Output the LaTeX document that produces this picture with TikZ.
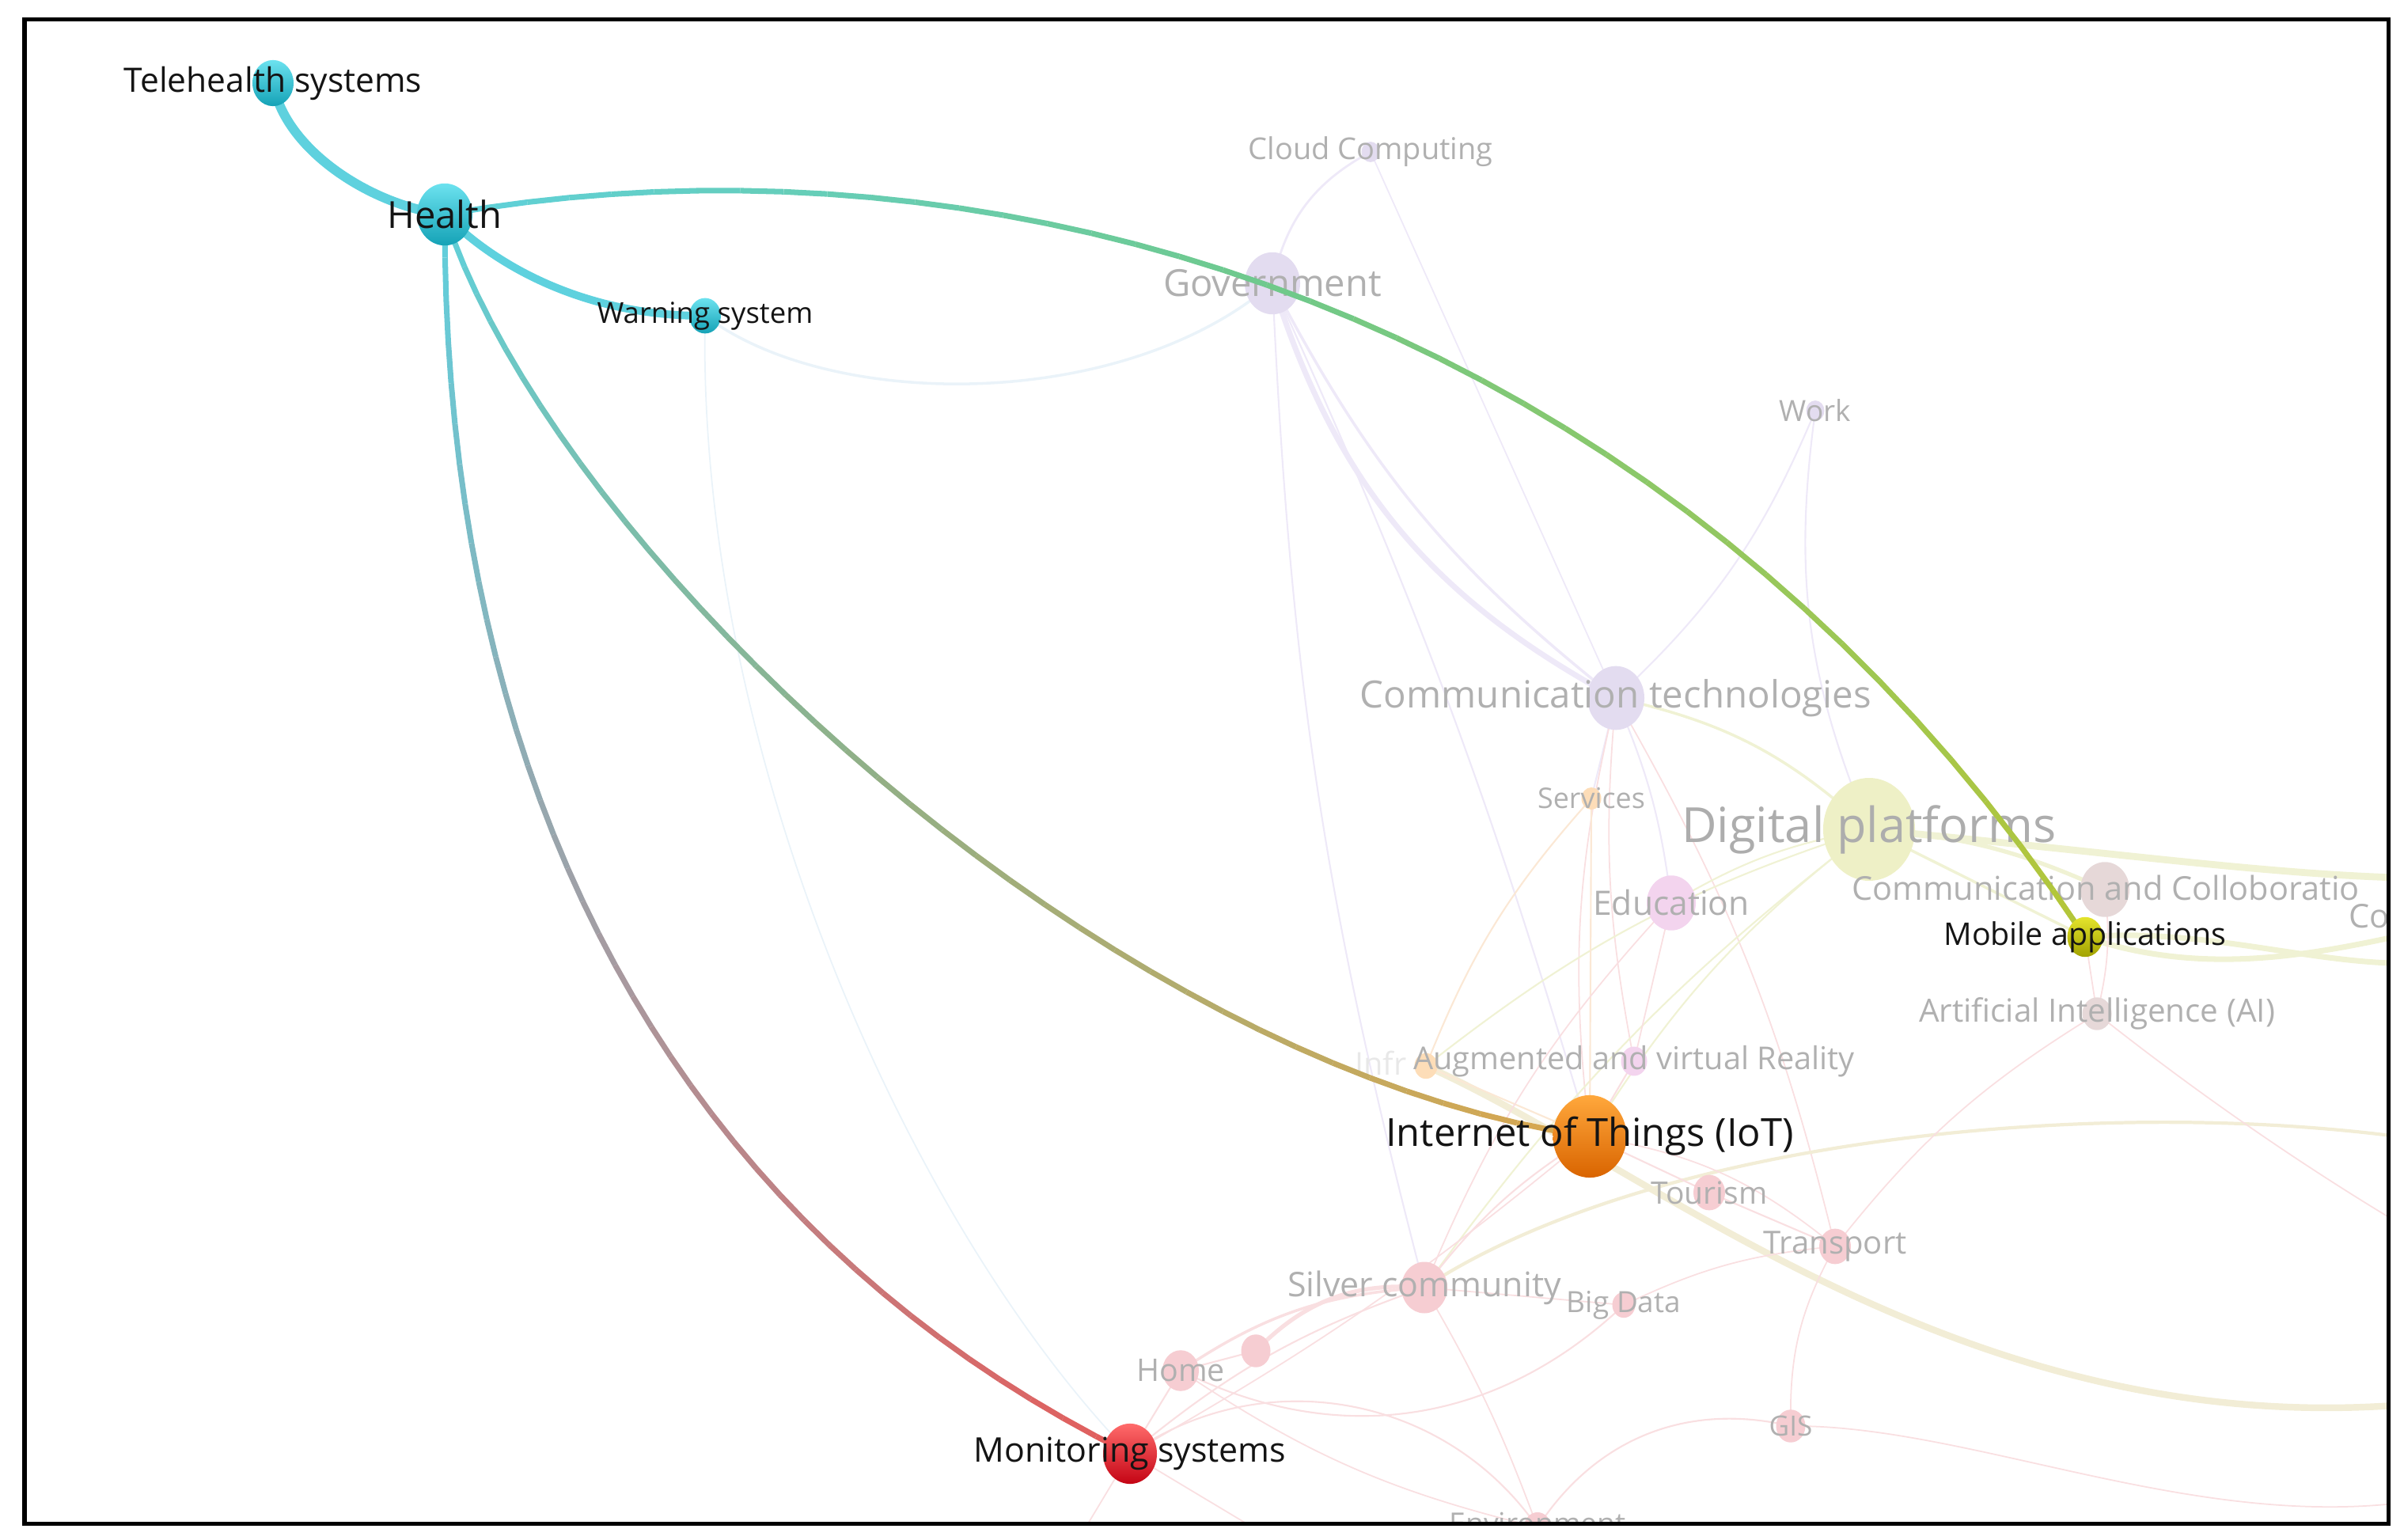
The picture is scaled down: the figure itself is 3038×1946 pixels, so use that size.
\documentclass[tikz,border=0pt]{standalone}
\usepackage{fontspec}
\setmainfont{Open Sans}
\usetikzlibrary{shapes.geometric}

% colours of the highlighted keywords (top / bottom of the bubble)
\definecolor{tealTop}{HTML}{6CE2EF}
\definecolor{tealBot}{HTML}{14A2B6}
\definecolor{redTop}{HTML}{FF6B6B}
\definecolor{redBot}{HTML}{C40414}
\definecolor{orTop}{HTML}{FFA83C}
\definecolor{orBot}{HTML}{D96400}
\definecolor{oliveTop}{HTML}{E4E42C}
\definecolor{oliveBot}{HTML}{A2A200}
% colours of the highlighted links
\definecolor{linkTeal}{HTML}{5ED1DE}
\definecolor{linkGreen}{HTML}{70C98A}
\definecolor{linkLime}{HTML}{B3C63A}
\definecolor{linkOlive}{HTML}{90B088}
\definecolor{linkGold}{HTML}{D9A64E}
\definecolor{linkGrey}{HTML}{A59CA2}
\definecolor{linkRed}{HTML}{E25E5C}
% faded keywords and links
\definecolor{fLav}{HTML}{E3DCF0}
\definecolor{fYel}{HTML}{EEF0C6}
\definecolor{fOr}{HTML}{FDDDB8}
\definecolor{fViolet}{HTML}{F3D4EE}
\definecolor{fMauve}{HTML}{E6D8D8}
\definecolor{fPink}{HTML}{F6CDD2}
\definecolor{fText}{HTML}{B0B0B0}
\definecolor{eLav}{HTML}{EEE9F8}
\definecolor{ePink}{HTML}{F9DFE1}
\definecolor{eYel}{HTML}{F0F2D4}
\definecolor{eBeige}{HTML}{F2EDD6}
\definecolor{eBlue}{HTML}{EAF3F9}
\definecolor{eOr}{HTML}{FBE8D5}

\pgfdeclarelayer{faint}
\pgfdeclarelayer{faintnodes}
\pgfdeclarelayer{links}
\pgfsetlayers{faint,faintnodes,links,main}

\tikzset{
  kw/.style={ellipse, inner sep=0pt, draw=none, minimum width=#1, minimum height=1.12*#1},
  bub/.style 2 args={kw=#1, top color=#2Top, bottom color=#2Bot},
  fbub/.style 2 args={kw=#1, fill=#2},
  tag/.style={inner sep=0pt, text=black!92, font=\fontsize{#1}{#1}\selectfont},
  ftag/.style={tag=#1, text=fText},
  flink/.style 2 args={draw=#1, line width=#2},
}

\begin{document}
\begin{tikzpicture}[x=0.01cm, y=-0.01cm, line cap=round]
  \useasboundingbox (0,0) rectangle (3038,1946);

  % A link whose colour runs from #5 over #6 to #7.
  % It is cut in 40 short pieces along the curve.
  \def\gradLink#1#2#3#4#5#6#7#8{
    % #1 -> #2 = end nodes, #3 and #4 = control points
    % #8 = width of the link
    \path (#1.center) .. controls #3 and #4 .. (#2.center)
      \foreach \k in {0,...,40} { coordinate[pos=\k/40] (#1#2\k) };
    \foreach \k in {1,...,40} {
      \pgfmathtruncatemacro\prev{\k-1}
      \ifnum\k<21
        \pgfmathtruncatemacro\mix{5*\k}
        \colorlet{segcol}{#6!\mix!#5}
      \else
        \pgfmathtruncatemacro\mix{5*(\k-20)}
        \colorlet{segcol}{#7!\mix!#6}
      \fi
      \draw[segcol, line width=#8] (#1#2\prev) -- (#1#2\k);
    }
  }

  % faded keywords in the back
  \begin{pgfonlayer}{faintnodes}
  \begin{scope}
    \clip (33,27) rectangle (3016,1923);
    \node[fbub={0.23cm}{fLav}] (cloud) at (1732,192) {};
    \node[fbub={0.70cm}{fLav}] (gov) at (1608,358) {};
    \node[fbub={0.23cm}{fLav}] (work) at (2294,519) {};
    \node[fbub={0.72cm}{fLav}] (comtech) at (2042,882) {};
    \node[fbub={0.25cm}{fOr}] (serv) at (2011,1009) {};
    \node[fbub={1.16cm}{fYel}] (digi) at (2362,1048) {};
    \node[fbub={0.62cm}{fViolet}] (edu) at (2112,1141) {};
    \node[fbub={0.62cm}{fMauve}] (collab) at (2660,1124) {};
    \node[fbub={0.37cm}{fMauve}] (ai) at (2650,1281) {};
    \node[fbub={0.29cm}{fOr}] (infra) at (1802,1347) {};
    \node[fbub={0.33cm}{fViolet}] (aug) at (2065,1341) {};
    \node[fbub={0.40cm}{fPink}] (tour) at (2160,1507) {};
    \node[fbub={0.40cm}{fPink}] (trans) at (2319,1575) {};
    \node[fbub={0.58cm}{fPink}] (silver) at (1800,1627) {};
    \node[fbub={0.29cm}{fPink}] (bigd) at (2052,1649) {};
    \node[fbub={0.37cm}{fPink}] (anon) at (1587,1707) {};
    \node[fbub={0.46cm}{fPink}] (home) at (1492,1732) {};
    \node[fbub={0.37cm}{fPink}] (gis) at (2263,1802) {};
    \node[fbub={0.34cm}{fPink}] (env) at (1943,1930) {};

    \node[ftag=10.8pt] (cloudL) at (cloud) {Cloud Computing};
    \node[ftag=13.4pt] (govL) at (gov) {Government};
    \node[ftag=10.5pt] (workL) at (work) {Work};
    \node[ftag=13.5pt] (comtechL) at (comtech) {Communication technologies};
    \node[ftag=10.2pt] (servL) at (serv) {Services};
    \node[ftag=17.4pt, text=black!32] (digiL) at (digi) {Digital platforms};
    \node[ftag=12.1pt] (eduL) at (edu) {Education};
    \node[ftag=11.8pt] (collabL) at (2661,1122) {Communication and Colloboratio};
    \node[ftag=11.8pt, anchor=west] (coL) at (2968,1158) {Co};
    \node[ftag=11.5pt] (aiL) at (ai) {Artificial Intelligence (AI)};
    \node[ftag=11.3pt, text=black!9, anchor=east] (infraL) at (1778,1343) {Infr};
    \node[ftag=11.3pt] (augL) at (aug) {Augmented and virtual Reality};
    \node[ftag=11.1pt] (tourL) at (tour) {Tourism};
    \node[ftag=11.4pt] (transL) at (trans) {Transport};
    \node[ftag=12.2pt] (silverL) at (silver) {Silver community};
    \node[ftag=10.5pt] (bigdL) at (bigd) {Big Data};
    \node[ftag=11.2pt] (homeL) at (home) {Home};
    \node[ftag=10pt] (gisL) at (gis) {GIS};
    \node[ftag=10.6pt] (envL) at (1943,1925) {Environment};
  \end{scope}
  \end{pgfonlayer}

  % highlighted keywords
  \node[bub={0.52cm}{teal}] (tele) at (345,105) {};
  \node[bub={0.70cm}{teal}] (health) at (562,271) {};
  \node[bub={0.40cm}{teal}] (warn) at (891,399) {};
  \node[bub={0.93cm}{or}] (iot) at (2009,1436) {};
  \node[bub={0.45cm}{olive}] (mobile) at (2635,1184) {};
  \node[bub={0.68cm}{red}] (mon) at (1428,1837) {};

  \node[tag=12.1pt] (teleL) at (tele) {Telehealth systems};
  \node[tag=13.4pt] (healthL) at (health) {Health};
  \node[tag=10.4pt] (warnL) at (warn) {Warning system};
  \node[tag=13.9pt] (iotL) at (iot) {Internet of Things (IoT)};
  \node[tag=11.2pt] (mobileL) at (mobile) {Mobile applications};
  \node[tag=12.2pt] (monL) at (mon) {Monitoring systems};

  % links of Health
  \begin{pgfonlayer}{links}
    \draw[linkTeal, line width=3.4pt] (tele.center) .. controls (360,190) and (470,260) .. (health.center);
    \draw[linkTeal, line width=2.8pt] (health.center) .. controls (640,350) and (760,400) .. (warn.center);
    \gradLink{health}{mobile}{(1250,150)}{(2100,380)}{linkTeal}{linkGreen}{linkLime}{2pt}
    \gradLink{health}{iot}{(700,700)}{(1400,1350)}{linkTeal}{linkOlive}{linkGold}{2pt}
    \gradLink{health}{mon}{(560,1000)}{(850,1550)}{linkTeal}{linkGrey}{linkRed}{2pt}
  \end{pgfonlayer}

  % faded links in the back
  \begin{pgfonlayer}{faint}
  \begin{scope}
    \clip (33,27) rectangle (3016,1923);
    \coordinate (offA) at (3090,1110);
    \coordinate (offB) at (3090,1170);
    \coordinate (offC) at (3090,1215);
    \coordinate (offD) at (3090,1770);
    \coordinate (offE) at (3090,1445);
    \coordinate (offF) at (3090,1890);
    \coordinate (offG) at (3090,1580);
    \coordinate (offH) at (1330,2000);
    \coordinate (offI) at (1700,2000);

    % upper part
    \draw[flink={eBlue}{1pt}] (warn.center) .. controls (1050,520) and (1420,520) .. (gov.center);
    \draw[flink={eBlue}{0.5pt}] (warn.center) .. controls (880,950) and (1150,1550) .. (mon.center);
    \draw[flink={eLav}{0.8pt}] (gov.center) to[bend left=25] (cloud.center);
    \draw[flink={eLav}{0.5pt}] (cloud.center) -- (comtech.center);
    \draw[flink={eLav}{2pt}] (gov.center) to[bend right=22] (comtech.center);
    \draw[flink={eLav}{1pt}] (gov.center) to[bend right=12] (comtech.center);
    \draw[flink={eLav}{0.6pt}] (gov.center) to[bend right=6] (silver.center);
    \draw[flink={eLav}{0.6pt}] (gov.center) to[bend left=4] (iot.center);
    \draw[flink={eLav}{0.6pt}] (work.center) to[bend left=12] (comtech.center);
    \draw[flink={eLav}{0.6pt}] (work.center) to[bend right=15] (digi.center);
    \draw[flink={eLav}{0.6pt}] (comtech.center) -- (serv.center);
    \draw[flink={eLav}{0.6pt}] (comtech.center) to[bend left=8] (edu.center);
    \draw[flink={eYel}{1pt}] (comtech.center) to[bend left=15] (digi.center);
    \draw[flink={ePink}{0.5pt}] (comtech.center) to[bend right=10] (iot.center);
    \draw[flink={ePink}{0.5pt}] (comtech.center) to[bend left=8] (trans.center);
    \draw[flink={ePink}{0.5pt}] (comtech.center) to[bend right=8] (aug.center);

    % around Digital platforms
    \draw[flink={eYel}{2.5pt}] (digi.center) .. controls (2700,1080) and (2900,1110) .. (offA);
    \draw[flink={eYel}{1.5pt}] (digi.center) to[bend left=10] (collab.center);
    \draw[flink={eYel}{1pt}] (digi.center) -- (mobile.center);
    \draw[flink={eYel}{2pt}] (mobile.center) .. controls (2800,1240) and (2950,1200) .. (offB);
    \draw[flink={eYel}{2pt}] (mobile.center) .. controls (2800,1170) and (2950,1230) .. (offC);
    \draw[flink={eYel}{0.6pt}] (digi.center) to[bend right=10] (iot.center);
    \draw[flink={eYel}{0.6pt}] (digi.center) to[bend right=8] (silver.center);
    \draw[flink={eYel}{0.6pt}] (infra.center) to[bend left=10] (digi.center);
    \draw[flink={eYel}{0.6pt}] (edu.center) to[bend left=10] (digi.center);
    \draw[flink={eOr}{0.6pt}] (serv.center) to[bend right=10] (infra.center);
    \draw[flink={eBeige}{2.4pt}] (infra.center) .. controls (2100,1480) and (2500,1840) .. (offD);
    \draw[flink={eBeige}{1.2pt}] (silver.center) .. controls (2100,1430) and (2700,1380) .. (offE);
    \draw[flink={ePink}{0.5pt}] (mobile.center) -- (ai.center);
    \draw[flink={ePink}{0.5pt}] (collab.center) to[bend left=10] (ai.center);
    \draw[flink={ePink}{0.5pt}] (ai.center) .. controls (2800,1400) and (2950,1500) .. (offG);
    \draw[flink={ePink}{0.5pt}] (ai.center) to[bend right=10] (trans.center);

    % lower part
    \draw[flink={eOr}{0.6pt}] (serv.center) -- (iot.center);
    \draw[flink={eOr}{0.6pt}] (infra.center) -- (iot.center);
    \draw[flink={ePink}{0.6pt}] (aug.center) -- (iot.center);
    \draw[flink={ePink}{0.5pt}] (edu.center) -- (aug.center);
    \draw[flink={ePink}{0.5pt}] (edu.center) to[bend right=10] (silver.center);
    \draw[flink={ePink}{0.6pt}] (iot.center) -- (tour.center);
    \draw[flink={ePink}{0.6pt}] (tour.center) -- (trans.center);
    \draw[flink={ePink}{0.5pt}] (iot.center) to[bend left=15] (trans.center);
    \draw[flink={ePink}{0.6pt}] (silver.center) to[bend left=10] (iot.center);
    \draw[flink={ePink}{0.5pt}] (silver.center) -- (bigd.center);
    \draw[flink={ePink}{0.5pt}] (bigd.center) to[bend left=10] (trans.center);
    \draw[flink={ePink}{1.5pt}] (anon.center) to[bend left=25] (silver.center);
    \draw[flink={ePink}{1pt}] (home.center) to[bend left=15] (silver.center);
    \draw[flink={ePink}{0.6pt}] (home.center) -- (anon.center);
    \draw[flink={ePink}{0.6pt}] (mon.center) -- (home.center);
    \draw[flink={ePink}{0.6pt}] (mon.center) to[bend left=10] (silver.center);
    \draw[flink={ePink}{0.5pt}] (mon.center) to[bend right=5] (iot.center);
    \draw[flink={ePink}{0.6pt}] (home.center) to[bend right=35] (bigd.center);
    \draw[flink={ePink}{0.6pt}] (mon.center) to[bend left=45] (env.center);
    \draw[flink={ePink}{0.6pt}] (env.center) to[bend left=35] (gis.center);
    \draw[flink={ePink}{0.5pt}] (gis.center) to[bend left=15] (trans.center);
    \draw[flink={ePink}{0.5pt}] (gis.center) .. controls (2500,1800) and (2800,1950) .. (offF);
    \draw[flink={ePink}{0.5pt}] (silver.center) to[bend left=5] (env.center);
    \draw[flink={ePink}{0.5pt}] (home.center) to[bend right=10] (env.center);
    \draw[flink={ePink}{0.5pt}] (mon.center) -- (offH);
    \draw[flink={ePink}{0.5pt}] (mon.center) -- (offI);
  \end{scope}
  \end{pgfonlayer}

  % frame round the whole map
  \draw[line width=0.05cm] (31,25) rectangle (3018,1925);
\end{tikzpicture}
\end{document}
